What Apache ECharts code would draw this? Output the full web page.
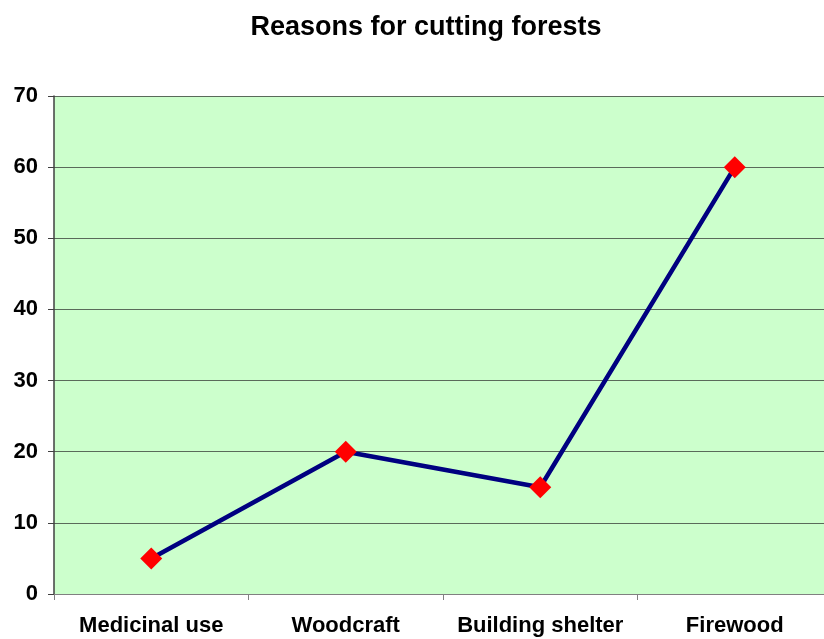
<!DOCTYPE html>
<html><head><meta charset="utf-8">
<script src="https://cdn.jsdelivr.net/npm/echarts@6/dist/echarts.min.js"></script>
<style>html,body{margin:0;padding:0;background:#fff;overflow:hidden;width:824px;height:639px}#c{width:832px;height:639px}</style>
</head><body><div id="c"></div>
<script>
const categories = ["Medicinal use", "Woodcraft", "Building shelter", "Firewood"];
const values = [5, 20, 15, 60];
const yTicks = {min: 0, max: 70, interval: 10};
const titleText = "Reasons for cutting forests";

const chart = echarts.init(document.getElementById('c'));
chart.setOption({
  animation: false,
  backgroundColor: '#ffffff',
  title: {
    text: titleText, left: 421, top: 9, textAlign: 'center',
    textStyle: {fontFamily: 'Liberation Sans, Arial, sans-serif', fontWeight: 'bold', fontSize: 27, color: '#000'}
  },
  grid: {left: 54, right: 0, top: 96, bottom: 45, show: true, backgroundColor: '#CCFFCC', borderWidth: 0, containLabel: false},
  xAxis: {
    type: 'category', data: categories, boundaryGap: true,
    axisLine: {lineStyle: {color: '#808080', width: 1}},
    axisTick: {show: true, length: 6, interval: 0, lineStyle: {color: '#808080'}},
    axisLabel: {interval: 0, hideOverlap: false, fontFamily: 'Liberation Sans, Arial, sans-serif', fontWeight: 'bold', fontSize: 22, color: '#000', margin: 21},
    splitLine: {show: false}
  },
  yAxis: {
    type: 'value', min: yTicks.min, max: yTicks.max, interval: yTicks.interval,
    axisLine: {show: true, lineStyle: {color: '#404040', width: 1.5}},
    axisTick: {show: true, length: 6, lineStyle: {color: '#404040'}},
    axisLabel: {fontFamily: 'Liberation Sans, Arial, sans-serif', fontWeight: 'bold', fontSize: 22, color: '#000', margin: 16},
    splitLine: {show: true, lineStyle: {color: '#5a6a5a', width: 1.2}}
  },
  series: [{
    type: 'line', data: values,
    lineStyle: {color: '#000080', width: 4.5},
    itemStyle: {color: '#FF0000', borderWidth: 0},
    symbol: 'diamond', symbolSize: 22,
    z: 3
  }]
});
</script></body></html>
